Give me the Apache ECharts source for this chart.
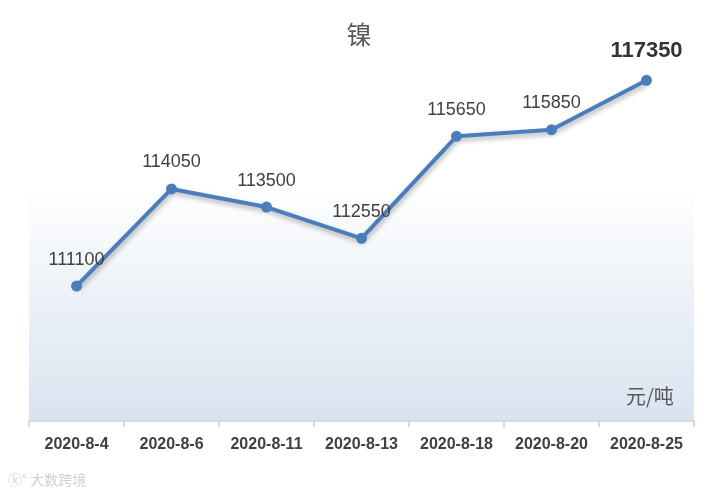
<!DOCTYPE html>
<html><head><meta charset="utf-8">
<script src="https://cdn.jsdelivr.net/npm/echarts@6/dist/echarts.min.js"></script>
<style>html,body{margin:0;padding:0;background:#fff}#c{width:718px;height:497px}</style>
</head><body><div id="c"></div>
<script>
var categories = ['2020-8-4','2020-8-6','2020-8-11','2020-8-13','2020-8-18','2020-8-20','2020-8-25'];
var prices = [111100, 114050, 113500, 112550, 115650, 115850, 117350];
var titleText = '镍';
var unitText = '元/吨';
var watermark = '大数跨境';

var chart = echarts.init(document.getElementById('c'));
var last = prices.length - 1;
chart.setOption({
  animation: false,
  title: {text: titleText, left: 'center', top: 17,
    textStyle: {fontSize: 25, fontWeight: 'normal', color: '#595959', fontFamily: 'Noto Sans CJK SC'}},
  grid: {left: 29, right: 24, top: 26, bottom: 76, show: true, borderWidth: 0,
    backgroundColor: {type: 'linear', x: 0, y: 0, x2: 0, y2: 1,
      colorStops: [{offset: 0, color: '#ffffff'}, {offset: 0.4, color: '#ffffff'}, {offset: 1, color: '#d9e3f0'}]}},
  xAxis: {type: 'category', data: categories, boundaryGap: true,
    axisLine: {lineStyle: {color: '#d9d9d9', width: 2}},
    axisTick: {show: true, length: 6, lineStyle: {color: '#d9d9d9', width: 2}},
    axisLabel: {color: '#404040', fontSize: 16, fontWeight: 'bold', margin: 16, fontFamily: 'Liberation Sans'}},
  yAxis: {type: 'value', min: 107000, max: 119000, show: false, splitLine: {show: false}},
  series: [{
    type: 'line', data: prices.map(function(v, i){
      return i === last ? {value: v, label: {fontSize: 22, fontWeight: 'bold', color: '#333', distance: 13}} : v;
    }),
    symbol: 'circle', symbolSize: 11,
    itemStyle: {color: '#4a7ebb'},
    lineStyle: {color: '#4a7ebb', width: 4, shadowColor: 'rgba(0,0,0,0.3)', shadowBlur: 5, shadowOffsetY: 3, shadowOffsetX: 1},
    label: {show: true, position: 'top', distance: 12, fontSize: 18, color: '#404040', fontFamily: 'Liberation Sans'}
  }],
  graphic: [
    {type: 'text', left: 626, top: 386, style: {text: unitText, fill: '#595959', font: '20px "Noto Sans CJK SC"'}},
    {type: 'text', left: 8, top: 473, style: {text: 'ⓚ° ' + watermark, fill: '#d0d0d0', font: '14px "Noto Sans CJK SC"'}}
  ]
});
</script></body></html>
